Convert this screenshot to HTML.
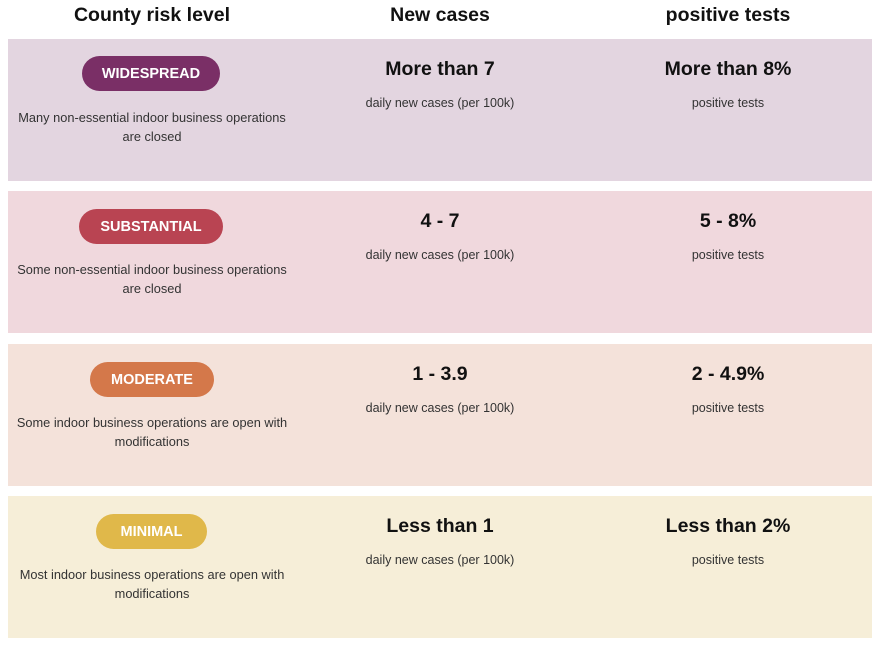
<!DOCTYPE html>
<html><head><style>
body{margin:0;width:880px;height:649px;background:#fff;font-family:"Liberation Sans",sans-serif;position:relative;overflow:hidden}
.h{position:absolute;top:4px;font-weight:bold;font-size:19.5px;color:#111;text-align:center;width:300px}
.row{position:absolute;left:8px;width:864px;height:142px}
.c{position:absolute;text-align:center;width:290px}
.pill{position:absolute;height:35px;border-radius:18px;color:#fff;font-weight:bold;font-size:14.5px;line-height:36px;text-align:center}
.d{top:69px;font-size:12.8px;line-height:19px;color:#333;left:0}
.v{top:19px;font-size:19.5px;font-weight:bold;color:#111}
.s{top:57px;font-size:12.5px;color:#333}
</style></head><body>
<div class="h" style="left:2px">County risk level</div>
<div class="h" style="left:290px">New cases</div>
<div class="h" style="left:578px">positive tests</div>

<div class="row" style="top:39px;background:#e3d5e0">
<div class="pill" style="left:74px;width:138px;top:17px;background:#7a2f66">WIDESPREAD</div>
<div class="c d" style="left:0;width:288px">Many non-essential indoor business operations<br>are closed</div>
<div class="c v" style="left:287px">More than 7</div><div class="c s" style="left:287px">daily new cases (per 100k)</div>
<div class="c v" style="left:575px">More than 8%</div><div class="c s" style="left:575px">positive tests</div>
</div>
<div class="row" style="top:191px;background:#f0d8dd">
<div class="pill" style="left:71px;width:144px;top:18px;background:#b94452">SUBSTANTIAL</div>
<div class="c d" style="left:0;width:288px">Some non-essential indoor business operations<br>are closed</div>
<div class="c v" style="left:287px">4 - 7</div><div class="c s" style="left:287px">daily new cases (per 100k)</div>
<div class="c v" style="left:575px">5 - 8%</div><div class="c s" style="left:575px">positive tests</div>
</div>
<div class="row" style="top:344px;background:#f4e2da">
<div class="pill" style="left:82px;width:124px;top:18px;background:#d4784a">MODERATE</div>
<div class="c d" style="left:0;width:288px">Some indoor business operations are open with<br>modifications</div>
<div class="c v" style="left:287px">1 - 3.9</div><div class="c s" style="left:287px">daily new cases (per 100k)</div>
<div class="c v" style="left:575px">2 - 4.9%</div><div class="c s" style="left:575px">positive tests</div>
</div>
<div class="row" style="top:496px;background:#f6eed8">
<div class="pill" style="left:88px;width:111px;top:18px;background:#e0b84a">MINIMAL</div>
<div class="c d" style="left:0;width:288px">Most indoor business operations are open with<br>modifications</div>
<div class="c v" style="left:287px">Less than 1</div><div class="c s" style="left:287px">daily new cases (per 100k)</div>
<div class="c v" style="left:575px">Less than 2%</div><div class="c s" style="left:575px">positive tests</div>
</div>
</body></html>
